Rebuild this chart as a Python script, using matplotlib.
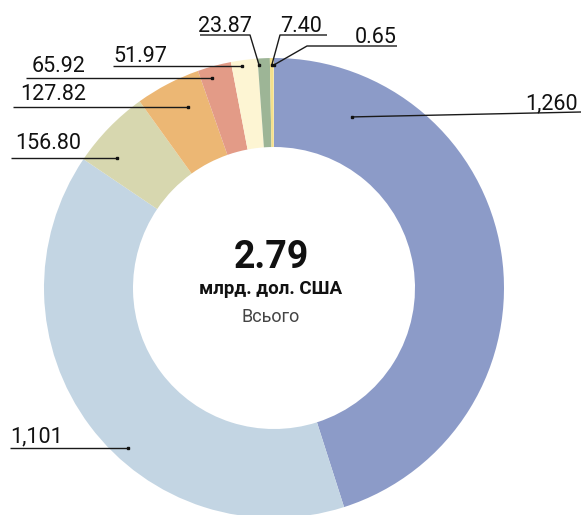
import numpy as np
import matplotlib.pyplot as plt

plt.rcParams['font.family'] = ['Roboto', 'DejaVu Sans']

# data
labels = ['1,260', '1,101', '156.80', '127.82', '65.92', '51.97', '23.87', '7.40', '0.65']
values = [1260, 1101, 156.80, 127.82, 65.92, 51.97, 23.87, 7.40, 0.65]
colors = ['#8c9bc8', '#c3d5e3', '#d7d7af', '#ecb774', '#e39b87',
          '#fdf5d3', '#9db596', '#f5e08a', '#f8eab0']
total_text = '2.79'
unit_text = 'млрд. дол. США'
sub_text = 'Всього'

W, H = 581, 515
cx, cy = 274, H - 288   # pie centre in pixel space (y up)
r_out, r_in = 230, 141

def Y(y):
    return H - y

fig = plt.figure(figsize=(W / 100, H / 100), dpi=100)
ax = fig.add_axes([0, 0, 1, 1])
ax.pie(values, colors=colors, startangle=90, counterclock=False,
       radius=r_out, center=(cx, cy),
       wedgeprops=dict(width=r_out - r_in, linewidth=0))
ax.set_xlim(0, W)
ax.set_ylim(0, H)
ax.set_aspect('equal')
ax.axis('off')

# anchor of each leader: fraction along the slice and radius
anchor_frac = [0.151, 0.424, 0.274, 0.629, 0.34, 0.39, 0.1, 0.5, 0.5]
anchor_rad = [188, 217, 204, 200, 219, 224, 223, 223, 223]

vals = np.array(values)
start = 90 - 360 * np.concatenate([[0], np.cumsum(vals)[:-1]]) / vals.sum()
span = 360 * vals / vals.sum()
ang = np.radians(start - np.array(anchor_frac) * span)
ax_pts = cx + np.array(anchor_rad) * np.cos(ang)
ay_pts = cy + np.array(anchor_rad) * np.sin(ang)

# leader paths (elbow / end points), text position and alignment
leaders = [
    dict(path=[(581, 112)], text=(578, 109), ha='right'),
    dict(path=[(10, None)], text=(10, 442), ha='left'),
    dict(path=[(11, None)], text=(15, 149), ha='left'),
    dict(path=[(13, None)], text=(20, 100), ha='left'),
    dict(path=[(26, None)], text=(32, 72), ha='left'),
    dict(path=[(113, None)], text=(113, 62), ha='left'),
    dict(path=[(250, 35), (200, 35)], text=(198, 32), ha='left'),
    dict(path=[(280, 35), (327, 35)], text=(280, 32), ha='left'),
    dict(path=[(307, 46), (397, 46)], text=(355, 43), ha='left'),
]

for i, ld in enumerate(leaders):
    xs = [ax_pts[i]]
    ys = [ay_pts[i]]
    for px, py in ld['path']:
        xs.append(px)
        ys.append(ay_pts[i] if py is None else Y(py))
    ax.plot(xs, ys, color='#1a1a1a', lw=1, solid_capstyle='butt', zorder=3)
    ax.plot(ax_pts[i], ay_pts[i], 's', color='#111111', ms=2, zorder=4)
    tx, ty = ld['text']
    ax.text(tx, Y(ty), labels[i], ha=ld['ha'], va='baseline',
            fontsize=15.5, color='#111111')

ax.text(271, Y(257), total_text, ha='center', va='center',
        fontsize=27, fontweight='bold', color='#111111')
ax.text(271, Y(289), unit_text, ha='center', va='center',
        fontsize=13.5, fontweight='bold', color='#111111')
ax.text(271, Y(317), sub_text, ha='center', va='center',
        fontsize=13, color='#444444')

plt.savefig('out.png', dpi=100)
